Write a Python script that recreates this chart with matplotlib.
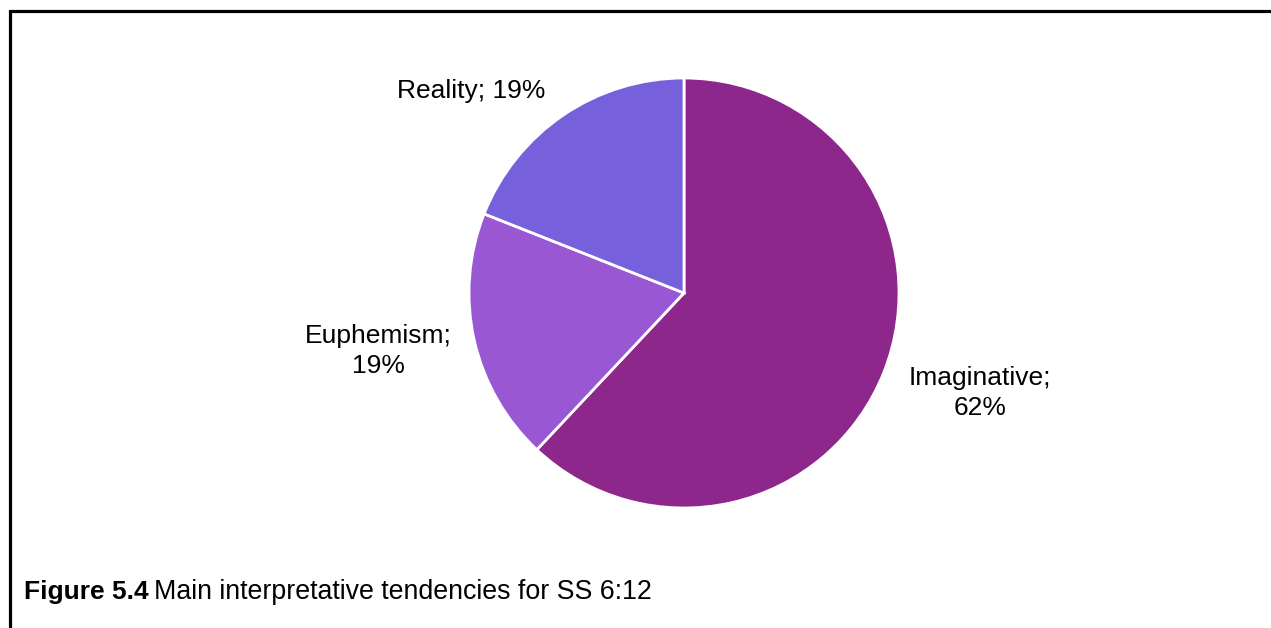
import matplotlib.pyplot as plt
from matplotlib.lines import Line2D

plt.rcParams["font.family"] = ["Liberation Sans", "DejaVu Sans"]

categories = ["Imaginative", "Euphemism", "Reality"]
shares = [62, 19, 19]
colors = ["#8e278c", "#9a57d4", "#7660db"]

W, H = 1271, 628
fig = plt.figure(figsize=(W / 100, H / 100), dpi=100)

# pie axes: 430 px box centred at (684, 293)
cx, cy, r = 684, 293, 215
ax = fig.add_axes([(cx - r) / W, 1 - (cy + r) / H, 2 * r / W, 2 * r / H])
ax.pie(shares, colors=colors, startangle=90, counterclock=False,
       wedgeprops=dict(edgecolor="white", linewidth=2))
ax.set_xlim(-1, 1)
ax.set_ylim(-1, 1)

label_pos = {
    "Imaginative": (1.377, -0.465, "{};\n{}%"),
    "Euphemism": (-1.42, -0.27, "{};\n{}%"),
    "Reality": (-0.99, 0.94, "{}; {}%"),
}
for name, val in zip(categories, shares):
    x, y, fmt = label_pos[name]
    ax.text(x, y, fmt.format(name, val), ha="center", va="center",
            fontsize=19, color="black", linespacing=1.28, clip_on=False)

# frame lines on the left and top
fig.add_artist(Line2D([10 / W, 10 / W, 1], [0, 1 - 11 / H, 1 - 11 / H],
                      transform=fig.transFigure, color="black", linewidth=2.3,
                      solid_joinstyle="miter"))

# caption
t1 = fig.text(24 / W, 1 - 592 / H, "Figure 5.4", fontsize=19, fontweight="bold", va="center")
fig.canvas.draw()
bb = t1.get_window_extent()
fig.text((bb.x1 + 5) / W, 1 - 592 / H, "Main interpretative tendencies for SS 6:12",
         fontsize=19.3, va="center")

fig.savefig("out.png", dpi=100)
